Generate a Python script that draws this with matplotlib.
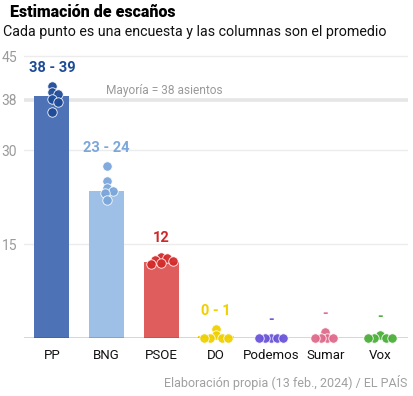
import numpy as np
import matplotlib
matplotlib.use('Agg')
import matplotlib.pyplot as plt

plt.rcParams['font.family'] = ['Roboto', 'DejaVu Sans']

# data
parties = ['PP', 'BNG', 'PSOE', 'DO', 'Podemos', 'Sumar', 'Vox']
averages = [38.7, 23.5, 12.2, 0.3, 0.0, 0.0, 0.0]
polls = [
    [40.2, 39.2, 39.0, 38.1, 37.7, 36.1],
    [27.5, 25.0, 24.0, 23.5, 23.1, 22.0],
    [13.0, 12.7, 12.5, 12.3, 11.9, 11.8],
    [1.4, 0.4, 0.0, 0.0, 0.0, 0.0],
    [0.0, 0.0, 0.0, 0.0, 0.0],
    [0.9, 0.0, 0.0, 0.0, 0.0],
    [0.5, 0.0, 0.0, 0.0, 0.0],
]
range_labels = ['38 - 39', '23 - 24', '12', '0 - 1', '-', '-', '-']
bar_colors = ['#4d72b6', '#9ec0e7', '#e05d5d', '#f5d90a', '#7a66dc', '#e47b98', '#5cb84a']
dot_colors = ['#1e4b99', '#7ba6da', '#d42b2b', '#f0d000', '#6a55d8', '#df6a8c', '#4caf3a']
label_colors = ['#1c4b97', '#7ca7db', '#d0282a', '#f0d000', '#6f5ad8', '#e07090', '#52b040']

yticks = [15, 30, 38, 45]
majority = 38

fig = plt.figure(figsize=(4.14, 3.96), dpi=100)
ax = fig.add_axes([24 / 414, 58 / 396, 384 / 414, 285 / 396])
ax.set_xlim(-0.51, 6.51)
ax.set_ylim(0, 45.5)

x = np.arange(len(parties))
ax.bar(x, averages, width=0.64, color=bar_colors, zorder=2)

# grid
for t in yticks:
    if t == majority:
        ax.axhline(t, color='#e6e6e6', lw=2.6, zorder=0)
    else:
        ax.axhline(t, color='#ececec', lw=1, zorder=0)
ax.axhline(0, color='#333333', lw=1, zorder=3)
ax.text(0.98, majority + 0.5, 'Mayoría = 38 asientos', color='#9a9a9a', fontsize=8.6, va='bottom', ha='left', zorder=1)

# simple beeswarm in pixel space
fig.canvas.draw()
trans = ax.transData
d = 9.5  # dot diameter px
for i, vals in enumerate(polls):
    placed = []
    for v in sorted(vals, reverse=True):
        px, py = trans.transform((i, v))
        cands = [0]
        for k in range(1, 15):
            cands += [k * 1.5, -k * 1.5]
        for c in cands:
            if all((px + c - qx) ** 2 + (py - qy) ** 2 >= (0.6 * d) ** 2 for qx, qy in placed):
                break
        placed.append((px + c, py))
    inv = trans.inverted()
    pts = np.array([inv.transform(p) for p in placed])
    ax.scatter(pts[:, 0], pts[:, 1], s=46, color=dot_colors[i], edgecolor='white', linewidth=0.6,
               alpha=0.95, zorder=4, clip_on=False)
    ax.annotate(range_labels[i], (i, max(vals)), xytext=(0, 8), textcoords='offset points',
                ha='center', va='bottom', fontsize=10.5, fontweight='bold', color=label_colors[i])

ax.set_yticks(yticks)
ax.set_yticklabels([str(t) for t in yticks], color='#9a9a9a', fontsize=10)
ax.tick_params(axis='y', length=0, pad=5)
ax.set_xticks(x)
ax.set_xticklabels(parties, fontsize=9.5, color='#111111')
ax.tick_params(axis='x', length=0, pad=8)
for s in ax.spines.values():
    s.set_visible(False)

fig.text(10 / 414, 1 - 12 / 396, 'Estimación de escaños', fontsize=11.5, fontweight='black', va='center', ha='left')
fig.text(3 / 414, 1 - 32 / 396, 'Cada punto es una encuesta y las columnas son el promedio', fontsize=10.3,
         va='center', ha='left', color='#111111')
fig.text(407 / 414, 1 - 383 / 396, 'Elaboración propia (13 feb., 2024) / EL PAÍS', fontsize=9,
         va='center', ha='right', color='#a0a0a0')

fig.savefig('out.png', dpi=100)
